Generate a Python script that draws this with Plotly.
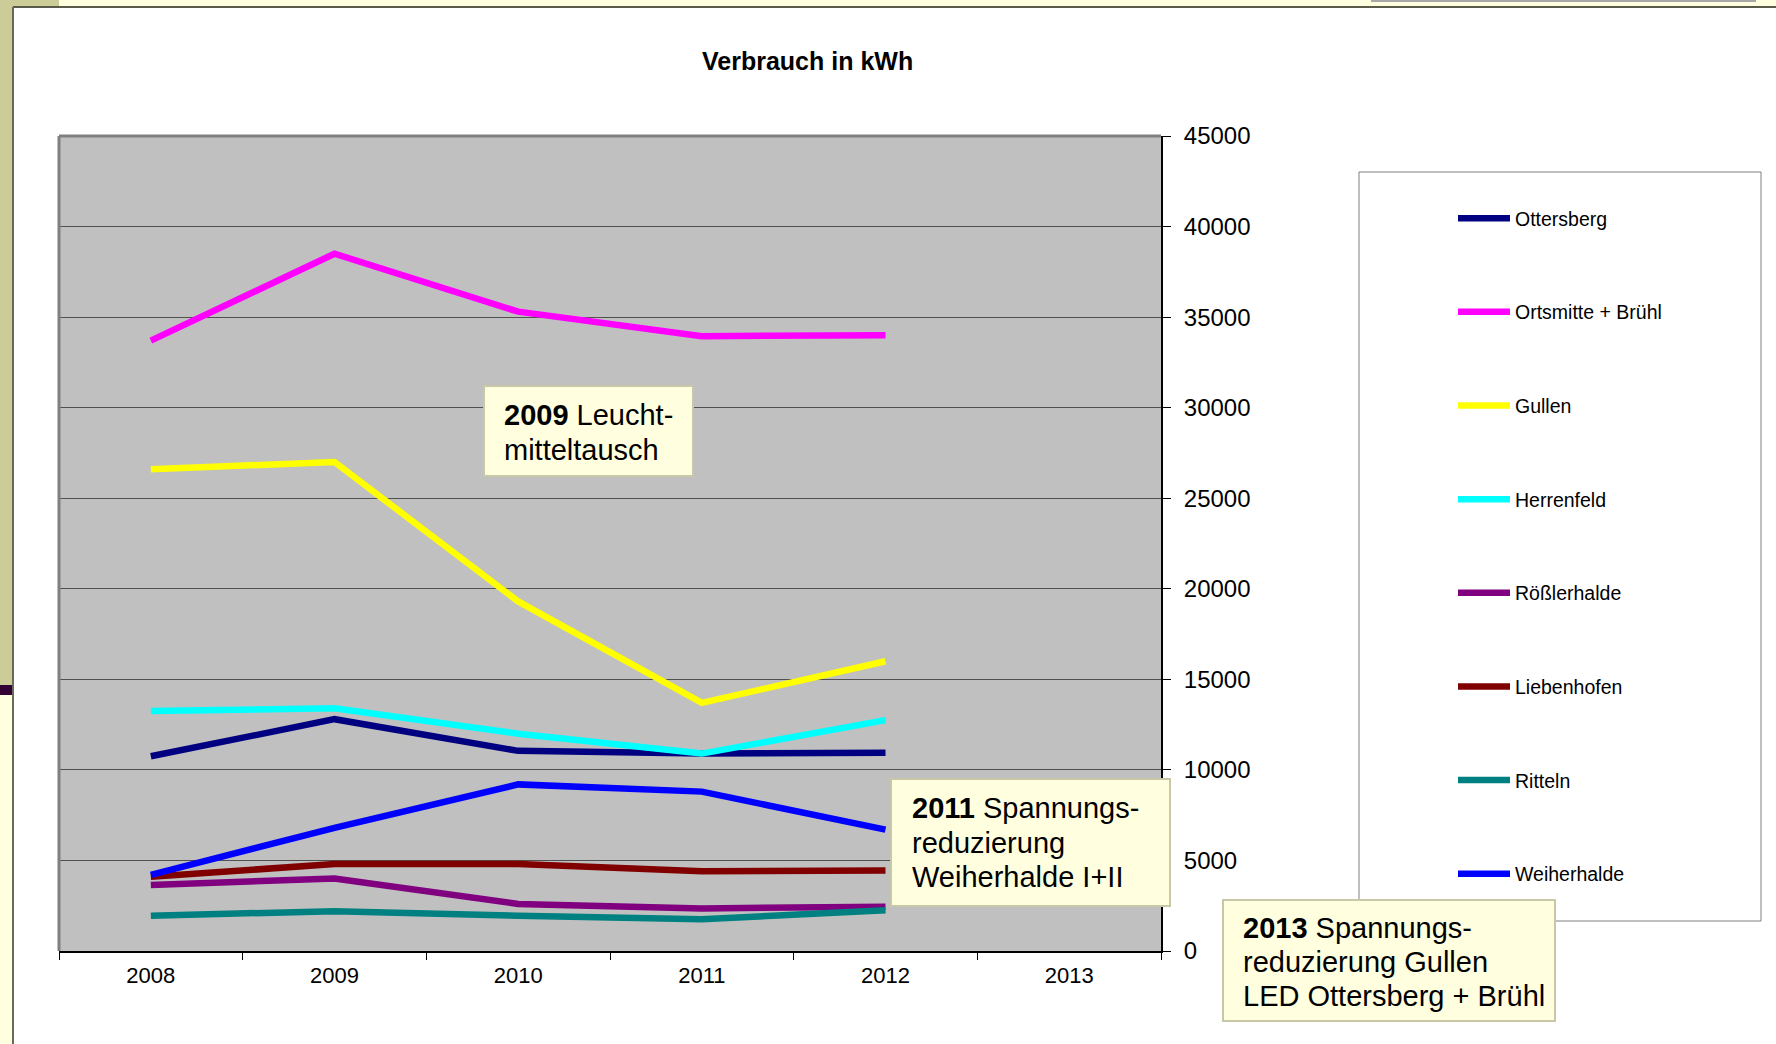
import plotly.graph_objects as go

# Pixelrahmen des Diagramms (Seite 1776x1044)
W, H = 1776, 1044
PL, PR, PT, PB = 59, 1161, 136, 951

jahre = ['2008', '2009', '2010', '2011', '2012', '2013']
jahre_daten = ['2008', '2009', '2010', '2011', '2012']

ottersberg = [10750, 12800, 11050, 10900, 10950]
ortsmitte = [33700, 38500, 35300, 33950, 34000]
gullen = [26600, 27000, 19300, 13700, 16000]
herrenfeld = [13250, 13400, 12000, 10900, 12750]
roesslerhalde = [3650, 4000, 2600, 2350, 2450]
liebenhofen = [4100, 4800, 4800, 4400, 4450]
ritteln = [1950, 2200, 1950, 1750, 2250]
weiherhalde = [4200, 6800, 9200, 8800, 6700]

namen = ['Ottersberg', 'Ortsmitte + Brühl', 'Gullen', 'Herrenfeld',
         'Rößlerhalde', 'Liebenhofen', 'Ritteln', 'Weiherhalde']
reihen = [ottersberg, ortsmitte, gullen, herrenfeld,
          roesslerhalde, liebenhofen, ritteln, weiherhalde]
farben = ['#000080', '#FF00FF', '#FFFF00', '#00FFFF',
          '#800080', '#800000', '#008080', '#0000FF']

FONT = 'Liberation Sans, Arial, sans-serif'


def px_x(x):
    return (x - PL) / (PR - PL)


def px_y(y):
    return (PB - y) / (PB - PT)


def rechteck(x0, y0, x1, y1, fill, line=None, lw=0, layer='below'):
    return dict(type='rect', xref='paper', yref='paper',
                x0=px_x(x0), x1=px_x(x1), y0=px_y(y1), y1=px_y(y0),
                fillcolor=fill, line=dict(color=line or fill, width=lw),
                layer=layer)


def linie(x0, y0, x1, y1, color, lw, layer='below'):
    return dict(type='line', xref='paper', yref='paper',
                x0=px_x(x0), x1=px_x(x1), y0=px_y(y0), y1=px_y(y1),
                line=dict(color=color, width=lw), layer=layer)


fig = go.Figure()

for i, (name, werte, farbe) in enumerate(zip(namen, reihen, farben)):
    fig.add_trace(go.Scatter(
        x=jahre_daten, y=werte, name=name, mode='lines',
        line=dict(color=farbe, width=6.5),
        legendgroup=str(i)
    ))

shapes = [
    # Folienhintergrund
    rechteck(0, 0, 13, 685, '#CCCC99'),
    rechteck(0, 0, 59, 7, '#CCCC99'),
    rechteck(59, 0, W, 7, '#FFFFE0'),
    rechteck(1371, 0, 1756, 2, '#A8A8A8'),
    rechteck(0, 685, 13, 695, '#330033'),
    rechteck(0, 695, 13, H, '#FFFFE0'),
    linie(13, 7, W, 7, '#5A5A4A', 2),
    linie(13, 7, 13, H, '#6A6A5A', 2),
    # Rahmen der Zeichenfläche oben/links
    linie(PL, PT, PR, PT, '#808080', 3, layer='above'),
    linie(PL, PT, PL, PB, '#808080', 3, layer='above'),
    # Legendenrahmen
    rechteck(1359, 172, 1761, 921, 'white', '#808080', 1),
    # Hinweisboxen
    rechteck(484, 386, 693, 476, '#FFFFE0', '#C8C8A8', 2, layer='above'),
    rechteck(891, 779, 1170, 906, '#FFFFE0', '#C8C8A8', 2, layer='above'),
    rechteck(1223, 900, 1555, 1021, '#FFFFE0', '#C8C8A8', 2, layer='above'),
]

# Hinweistexte, jede Zeile einzeln (x, y der Zeilenmitte in Pixeln)
hinweise = [
    (502, 415, '<b>2009</b> Leucht-'),
    (502, 450, 'mitteltausch'),
    (910, 808, '<b>2011</b> Spannungs-'),
    (910, 843, 'reduzierung'),
    (910, 877, 'Weiherhalde I+II'),
    (1241, 928, '<b>2013</b> Spannungs-'),
    (1241, 962, 'reduzierung Gullen'),
    (1241, 996, 'LED Ottersberg + Brühl'),
]
annotations = [
    dict(text='<b>Verbrauch in kWh</b>', xref='paper', yref='paper',
         x=px_x(807), y=px_y(61), xanchor='center', yanchor='middle',
         showarrow=False, font=dict(family=FONT, size=25, color='black'))
]
for x, y, t in hinweise:
    annotations.append(dict(
        text=t, xref='paper', yref='paper', x=px_x(x), y=px_y(y),
        xanchor='left', yanchor='middle', align='left', showarrow=False,
        font=dict(family=FONT, size=29, color='black')
    ))

fig.update_layout(
    width=W, height=H,
    margin=dict(l=PL, r=W - PR, t=PT, b=H - PB),
    paper_bgcolor='white',
    plot_bgcolor='#C0C0C0',
    font=dict(family=FONT, color='black'),
    shapes=shapes,
    annotations=annotations,
    showlegend=True,
    legend=dict(
        x=px_x(1453), y=px_y(199), xanchor='left', yanchor='top',
        bgcolor='rgba(0,0,0,0)', borderwidth=0,
        font=dict(family=FONT, size=19.5, color='black'),
        tracegroupgap=65.3, itemwidth=52, itemclick=False
    ),
    xaxis=dict(
        type='category', categoryorder='array', categoryarray=jahre,
        range=[-0.5, 5.5], showgrid=False, zeroline=False,
        showline=True, linecolor='black', linewidth=2,
        ticks='outside', tickson='boundaries', ticklen=7, tickcolor='black',
        ticklabelstandoff=4,
        tickfont=dict(family=FONT, size=22, color='black')
    ),
    yaxis=dict(
        side='right', range=[0, 45000], dtick=5000, tickformat='d',
        showgrid=True, gridcolor='#505050', gridwidth=1, zeroline=False,
        showline=True, linecolor='black', linewidth=2,
        ticks='outside', ticklen=8, tickcolor='black',
        ticklabelstandoff=8,
        tickfont=dict(family=FONT, size=24, color='black')
    ),
)

# Browser-Standardrand entfernen, damit die Seite pixelgenau sitzt
fig.write_html('out.html', config={'displayModeBar': False},
               post_script="document.body.style.margin='0';")
